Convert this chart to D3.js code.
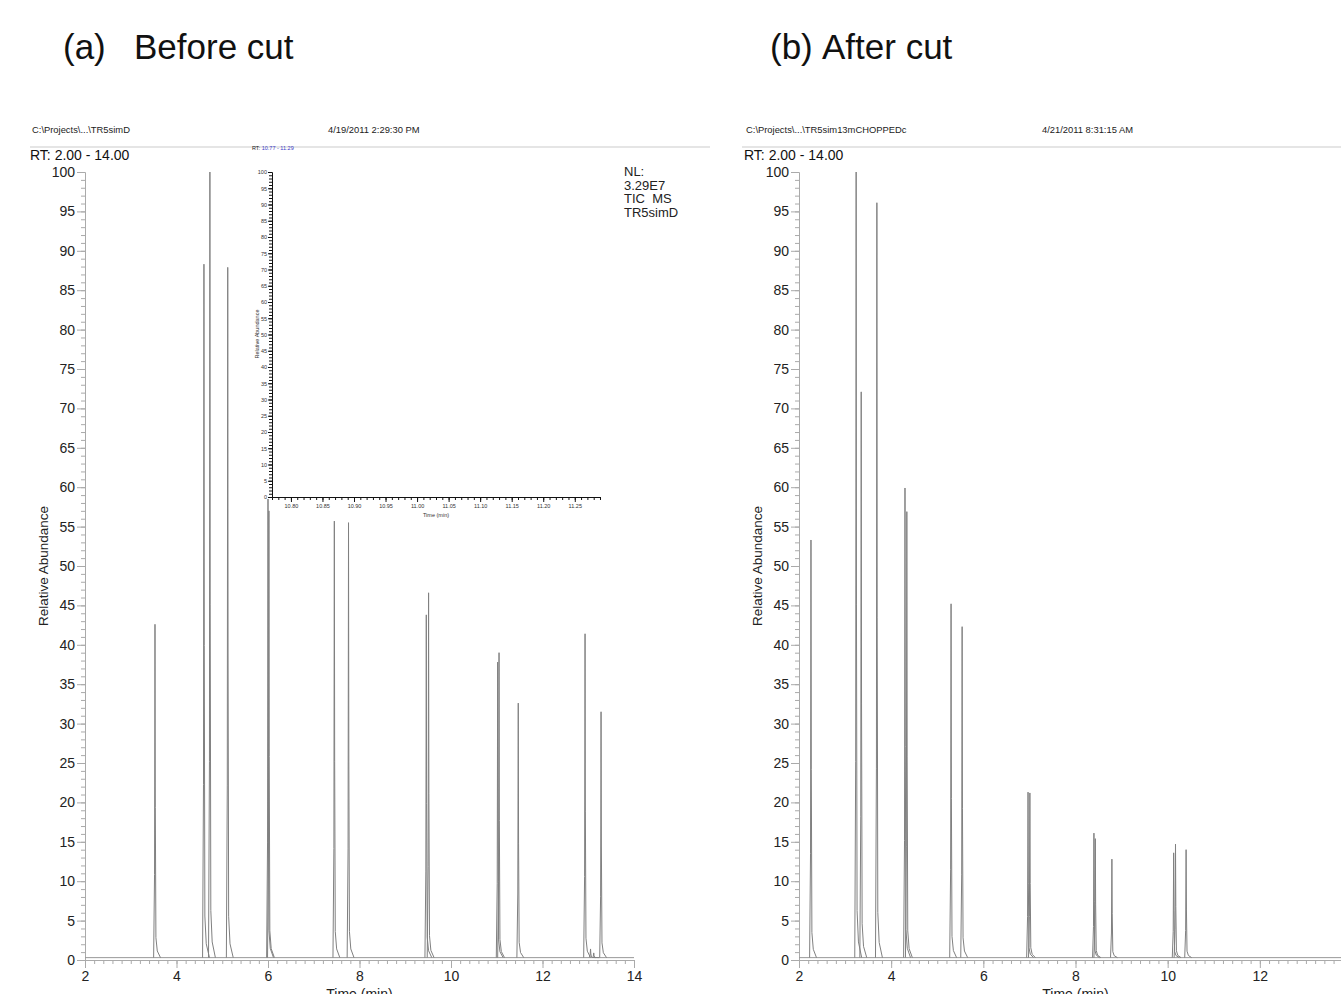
<!DOCTYPE html>
<html>
<head>
<meta charset="utf-8">
<script src="https://cdn.jsdelivr.net/npm/d3@7"></script>
<style>
  body { margin: 0; background: #fff; }
  svg { display: block; font-family: 'Liberation Sans', Arial, sans-serif; }
</style>
</head>
<body>
<svg id="chart" width="1341" height="994"></svg>
<script>
// Tick labels
const yTickValues = [0, 5, 10, 15, 20, 25, 30, 35, 40, 45, 50, 55, 60, 65, 70, 75, 80, 85, 90, 95, 100];
const xTickValues = [2, 4, 6, 8, 10, 12, 14];
const insetXTickValues = [10.80, 10.85, 10.90, 10.95, 11.00, 11.05, 11.10, 11.15, 11.20, 11.25];

// (a) before cut: retention time (min) and relative abundance of each peak apex
const beforeRT = [3.53, 4.60, 4.73, 5.12, 6.00, 6.02, 7.45, 7.76, 9.46, 9.51, 11.02, 11.05, 11.47, 12.93, 13.05, 13.12, 13.28];
const beforeHeight = [42.6, 88.3, 100, 87.9, 58.5, 57.0, 55.7, 55.5, 43.8, 46.6, 37.8, 39.0, 32.6, 41.4, 1.4, 0.9, 31.5];

// (b) after cut
const afterRT = [2.26, 3.24, 3.35, 3.69, 4.30, 4.34, 5.30, 5.54, 6.97, 7.01, 8.40, 8.43, 8.79, 10.13, 10.17, 10.40];
const afterHeight = [53.3, 100, 72.1, 96.1, 59.9, 56.9, 45.2, 42.3, 21.3, 21.2, 16.1, 15.4, 12.8, 13.6, 14.7, 14.0];

const baselineLevel = 0.3;

// peak outline: [time offset, fraction of apex]
const peakShape = [[-0.03, 0], [-0.01, 0.25], [0, 1], [0.007, 0.45], [0.02, 0.06], [0.05, 0.02], [0.12, 0]];

const W = 1341;
const svg = d3.select('#chart');
const font = "'Liberation Sans', Arial, sans-serif";

function drawPanel(opt) {
    const x = d3.scaleLinear().domain([2, 14]).range([opt.x0, opt.x1]);
    const y = d3.scaleLinear().domain([0, 100]).range([960, 172]);
    const g = svg.append('g');

    // panel title
    g.append('text').attr('x', opt.titleX).attr('y', 59)
        .attr('font-size', 35).attr('fill', '#111').text(opt.tag);
    g.append('text').attr('x', opt.titleX2).attr('y', 59)
        .attr('font-size', 35).attr('fill', '#111').text(opt.title);

    // header
    g.append('text').attr('x', opt.x0 - 53).attr('y', 133)
        .attr('font-size', 9.4).attr('fill', '#222').text(opt.file);
    g.append('text').attr('x', opt.x0 + 243).attr('y', 133)
        .attr('font-size', 9.4).attr('fill', '#222').text(opt.date);
    g.append('line').attr('x1', opt.lineX1).attr('x2', opt.lineX2)
        .attr('y1', 147).attr('y2', 147)
        .attr('stroke', '#ccc').attr('stroke-width', 1.2);
    g.append('text').attr('x', opt.x0 - 55).attr('y', 160)
        .attr('font-size', 14).attr('fill', '#111').text('RT: 2.00 - 14.00');

    // y axis
    g.append('g').attr('transform', `translate(${opt.x0},0)`)
        .call(d3.axisLeft(y).tickValues(d3.range(0, 101, 1)).tickSize(4).tickFormat(''))
        .call(a => a.selectAll('line').attr('stroke', '#aaa'))
        .call(a => a.select('.domain').attr('stroke', '#aaa'));
    g.append('g').attr('transform', `translate(${opt.x0},0)`)
        .call(d3.axisLeft(y).tickValues(yTickValues).tickSize(8).tickPadding(2))
        .call(a => a.select('.domain').remove())
        .call(a => a.selectAll('line').attr('stroke', '#aaa'))
        .call(a => a.selectAll('text').attr('font-size', 14).attr('font-family', font).attr('fill', '#222'));

    // x axis (labels only where they fit in the page)
    g.append('g').attr('transform', 'translate(0,960)')
        .call(d3.axisBottom(x).tickValues(d3.range(2, 14.01, 0.2)).tickSize(4).tickFormat('').tickSizeOuter(0))
        .call(a => a.selectAll('line').attr('stroke', '#aaa'))
        .call(a => a.select('.domain').attr('stroke', '#aaa'));
    g.append('g').attr('transform', 'translate(0,960)')
        .call(d3.axisBottom(x).tickValues(xTickValues.filter(v => x(v) < W - 8)).tickSize(8).tickPadding(3))
        .call(a => a.select('.domain').remove())
        .call(a => a.selectAll('line').attr('stroke', '#aaa'))
        .call(a => a.selectAll('text').attr('font-size', 14).attr('font-family', font).attr('fill', '#222'));

    g.append('text').attr('x', (opt.x0 + opt.x1) / 2).attr('y', 999)
        .attr('text-anchor', 'middle').attr('font-size', 14).attr('fill', '#222').text('Time (min)');
    g.append('text')
        .attr('transform', `translate(${opt.x0 - 37},566) rotate(-90)`)
        .attr('text-anchor', 'middle').attr('font-size', 13.5).attr('fill', '#222')
        .text('Relative Abundance');

    // trace
    const line = d3.line().x(d => x(d[0])).y(d => y(d[1]));
    g.append('path')
        .attr('d', line([[2, baselineLevel], [14, baselineLevel]]))
        .attr('fill', 'none').attr('stroke', '#999').attr('stroke-width', 1);
    g.append('g').selectAll('path')
        .data(opt.rt.map((t, i) => ({ t, h: opt.height[i] })))
        .join('path')
        .attr('d', d => line(peakShape.map(p => [d.t + p[0], baselineLevel + p[1] * (d.h - baselineLevel)])))
        .attr('fill', 'none')
        .attr('stroke', '#808080')
        .attr('stroke-width', 1);

    return g;
}

drawPanel({
    x0: 85, x1: 634, titleX: 63, titleX2: 134, tag: '(a)', title: 'Before cut',
    file: 'C:\\Projects\\...\\TR5simD', date: '4/19/2011 2:29:30 PM',
    lineX1: 30, lineX2: 710, rt: beforeRT, height: beforeHeight
});
drawPanel({
    x0: 799, x1: 1352, titleX: 770, titleX2: 822, tag: '(b)', title: 'After cut',
    file: 'C:\\Projects\\...\\TR5sim13mCHOPPEDc', date: '4/21/2011 8:31:15 AM',
    lineX1: 742, lineX2: 1341, rt: afterRT, height: afterHeight
});

// NL block on panel (a)
const nl = ['NL:', '3.29E7', 'TIC  MS', 'TR5simD'];
svg.append('g').selectAll('text').data(nl).join('text')
    .attr('x', 624).attr('y', (d, i) => 176 + i * 13.5)
    .attr('font-size', 13).attr('fill', '#222')
    .attr('xml:space', 'preserve')
    .text(d => d);

// inset zoom 10.77 - 11.29
const ix = d3.scaleLinear().domain([10.77, 11.29]).range([272, 600]);
const iy = d3.scaleLinear().domain([0, 100]).range([497, 172]);
const inset = svg.append('g');
inset.append('rect').attr('x', 273).attr('y', 165).attr('width', 328).attr('height', 331).attr('fill', '#fff');

const rtLabel = inset.append('text').attr('x', 252).attr('y', 150).attr('font-size', 5.5);
rtLabel.append('tspan').attr('fill', '#222').text('RT: ');
rtLabel.append('tspan').attr('fill', '#3a3ac8').text('10.77 - 11.29');

inset.append('g').attr('transform', 'translate(272,0)')
    .call(d3.axisLeft(iy).tickValues(d3.range(0, 101, 1)).tickSize(3).tickFormat(''))
    .call(a => a.selectAll('line,path').attr('stroke', '#111'));
inset.append('g').attr('transform', 'translate(272,0)')
    .call(d3.axisLeft(iy).tickValues(yTickValues).tickSize(4).tickPadding(1))
    .call(a => a.select('.domain').remove())
    .call(a => a.selectAll('line').attr('stroke', '#111'))
    .call(a => a.selectAll('text').attr('font-size', 5.5).attr('font-family', font).attr('fill', '#333'));

inset.append('g').attr('transform', 'translate(0,497)')
    .call(d3.axisBottom(ix).tickValues(d3.range(10.77, 11.2901, 0.01)).tickSize(3).tickFormat('').tickSizeOuter(0))
    .call(a => a.selectAll('line,path').attr('stroke', '#111'));
inset.append('g').attr('transform', 'translate(0,497)')
    .call(d3.axisBottom(ix).tickValues(insetXTickValues).tickSize(5).tickPadding(2).tickFormat(d3.format('.2f')))
    .call(a => a.select('.domain').remove())
    .call(a => a.selectAll('line').attr('stroke', '#111'))
    .call(a => a.selectAll('text').attr('font-size', 5.5).attr('font-family', font).attr('fill', '#333'));

inset.append('text').attr('x', 436).attr('y', 517).attr('text-anchor', 'middle')
    .attr('font-size', 5.5).attr('fill', '#333').text('Time (min)');
inset.append('text').attr('transform', 'translate(259,334) rotate(-90)')
    .attr('text-anchor', 'middle').attr('font-size', 5.5).attr('fill', '#333').text('Relative Abundance');
</script>
</body>
</html>
